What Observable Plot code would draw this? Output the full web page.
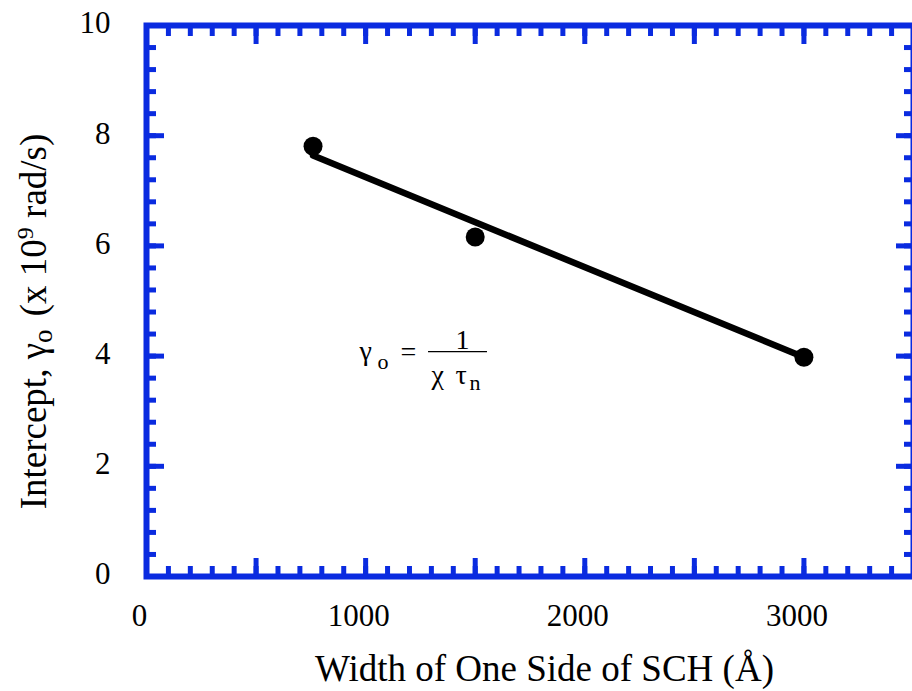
<!DOCTYPE html>
<html><head><meta charset="utf-8">
<script src="https://cdn.jsdelivr.net/npm/d3@7"></script>
<script src="https://cdn.jsdelivr.net/npm/@observablehq/plot@0.6"></script>
<style>body{margin:0;background:#fff} svg{display:block}</style>
</head><body><div id="chart"></div>
<script>
// Data
const widthSCH = [760, 1500, 3000];          // Å
const intercept = [7.81, 6.16, 3.98];        // x 10^9 rad/s
const fitWidth = [760, 3000];
const fitIntercept = [7.64, 3.98];
// Axis ticks
const xTickLabels = [0, 1000, 2000, 3000];
const yTickLabels = [0, 2, 4, 6, 8, 10];
const xMajorTicks = [0, 500, 1000, 1500, 2000, 2500, 3000, 3500];
const xMinorTicks = d3.range(0, 3501, 100);
const yMajorTicks = [0, 2, 4, 6, 8, 10];
const yMinorTicks = d3.range(26).map(i => +(i * 0.4).toFixed(1));
// Annotation anchor (data units)
const formulaAt = [{x: 1200, y: 4.04}];
const fractionBar = [{x1: 1287, x2: 1556, y: 4.08}];

const xTitle = "Width of One Side of SCH (Å)";
const yTitle = "Intercept, γo (x 109 rad/s)";

const points = widthSCH.map((w, i) => ({w, g: intercept[i]}));
const fit = fitWidth.map((w, i) => ({w, g: fitIntercept[i]}));
const blue = "#0a2be0";
const serif = "'Liberation Serif', 'Times New Roman', 'DejaVu Serif', serif";
const noText = () => "";

const tickMarks = [];
for (const anchor of ["bottom", "top"]) {
  tickMarks.push(Plot.axisX({ticks: xMinorTicks, anchor, tickSize: -10, stroke: blue, strokeWidth: 5, tickFormat: noText, label: null}));
  tickMarks.push(Plot.axisX({ticks: xMajorTicks, anchor, tickSize: -18, stroke: blue, strokeWidth: 5, tickFormat: noText, label: null}));
}
for (const anchor of ["left", "right"]) {
  tickMarks.push(Plot.axisY({ticks: yMinorTicks, anchor, tickSize: -10, stroke: blue, strokeWidth: 5, tickFormat: noText, label: null}));
  tickMarks.push(Plot.axisY({ticks: yMajorTicks, anchor, tickSize: -18, stroke: blue, strokeWidth: 5, tickFormat: noText, label: null}));
}

const fs = 28, fsSub = 22;
const ftext = (t, o) => Plot.text(formulaAt, {x: "x", y: "y", text: () => t, lineAnchor: "bottom", fontFamily: serif, fill: "black", ...o});
const svg = Plot.plot({
  width: 912, height: 691,
  marginLeft: 146, marginRight: -1, marginTop: 25, marginBottom: 115,
  x: {domain: [0, 3500]},
  y: {domain: [0, 10]},
  style: {fontFamily: serif, background: "white", color: "black"},
  marks: [
    ...tickMarks,
    Plot.axisX({ticks: xTickLabels, anchor: "bottom", tickSize: 0, tickPadding: 27, fontSize: 31, dx: -7, label: null, tickFormat: d => String(d)}),
    Plot.axisY({ticks: yTickLabels, anchor: "left", tickSize: 0, tickPadding: 36, fontSize: 31, dy: -2, label: null, tickFormat: d => String(d)}),
    Plot.frame({stroke: blue, strokeWidth: 6}),
    Plot.line(fit, {x: "w", y: "g", stroke: "black", strokeWidth: 6.5}),
    Plot.dot(points, {x: "w", y: "g", r: 9.5, fill: "black"}),
    // formula annotation
    ftext("γ", {textAnchor: "start", dx: -50, dy: 6, fontSize: fs}),
    ftext("o", {textAnchor: "start", dx: -32, dy: 15, fontSize: fsSub}),
    ftext("=", {textAnchor: "start", dx: -9, dy: 7, fontSize: fs}),
    ftext("1", {textAnchor: "middle", dx: 53, dy: -4.4, fontSize: fs}),
    ftext("χ", {textAnchor: "start", dx: 22, dy: 30.5, fontSize: fs}),
    ftext("τ", {textAnchor: "start", dx: 46, dy: 30.5, fontSize: fs}),
    ftext("n", {textAnchor: "start", dx: 60, dy: 36.6, fontSize: fsSub}),
    Plot.ruleY(fractionBar, {y: "y", x1: "x1", x2: "x2", stroke: "black", strokeWidth: 1.3}),
    // axis titles
    Plot.text([xTitle], {frameAnchor: "bottom", text: d => d, lineAnchor: "bottom", dx: 14.5, dy: 104, fontSize: 37}),
    Plot.text([yTitle], {frameAnchor: "left", text: d => d, rotate: -90, textAnchor: "middle", lineAnchor: "bottom", dx: -101, dy: 20.5, fontSize: 37})
  ]
});

// rich text for the y title (subscript o, superscript 9)
d3.select(svg).selectAll("text").filter(function() { return this.textContent === yTitle; }).each(function() {
  const t = d3.select(this);
  t.text(null).style("white-space", "pre");
  t.append("tspan").text("Intercept, γ");
  t.append("tspan").attr("dy", 6).attr("font-size", 27).text("o");
  t.append("tspan").attr("dy", -6).attr("dx", 4).text(" (x 10");
  t.append("tspan").attr("dy", -13).attr("font-size", 24).text("9");
  t.append("tspan").attr("dy", 13).text(" rad/s)");
});

document.getElementById("chart").append(svg);
</script>
</body></html>
